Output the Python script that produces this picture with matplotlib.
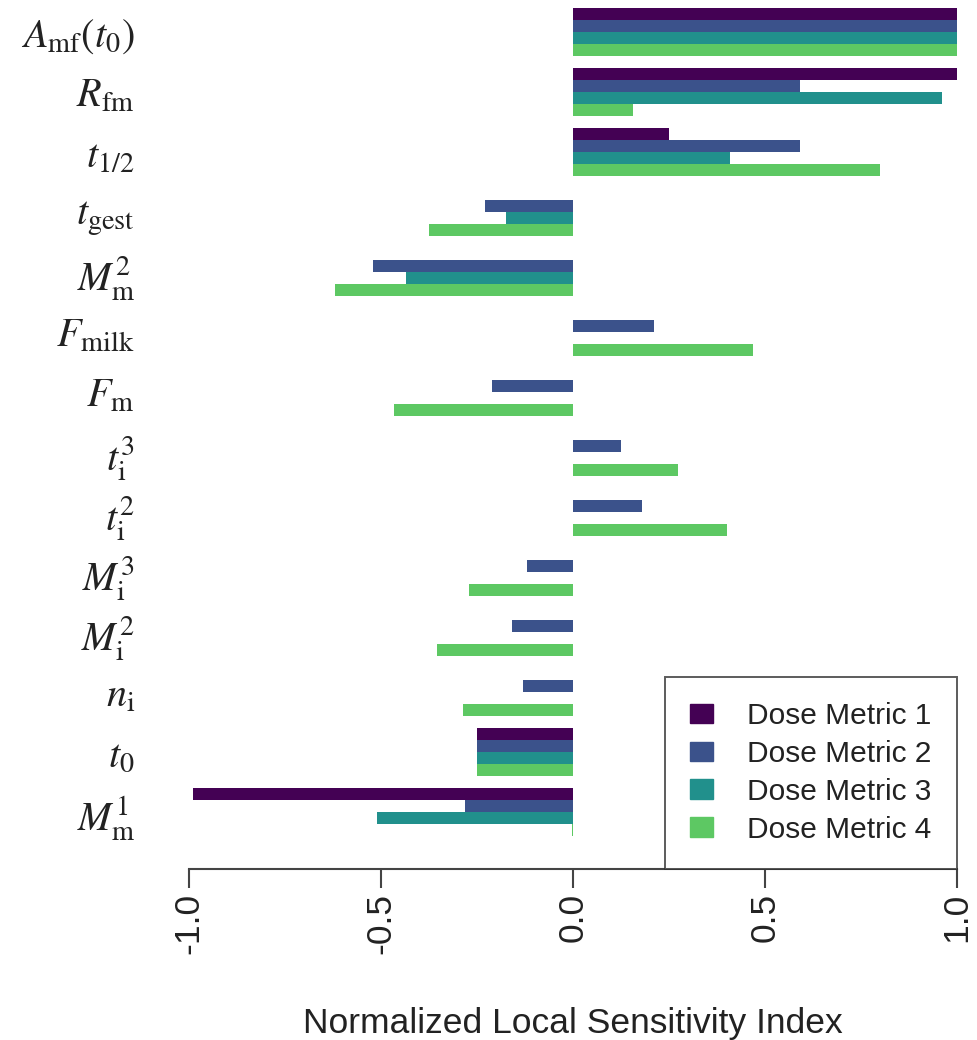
import numpy as np
import matplotlib
matplotlib.use('Agg')
import matplotlib.pyplot as plt
from matplotlib.patches import Patch

plt.rcParams['font.family'] = ['Liberation Sans', 'DejaVu Sans']
plt.rcParams['mathtext.fontset'] = 'stix'

# parameters, listed top to bottom
params = [r'$A_{\mathrm{mf}}(t_0)$', r'$R_{\mathrm{fm}}$', r'$t_{1/2}$',
          r'$t_{\mathrm{gest}}$', r'$M_{\mathrm{m}}^{2}$', r'$F_{\mathrm{milk}}$',
          r'$F_{\mathrm{m}}$', r'$t_{\mathrm{i}}^{3}$', r'$t_{\mathrm{i}}^{2}$',
          r'$M_{\mathrm{i}}^{3}$', r'$M_{\mathrm{i}}^{2}$', r'$n_{\mathrm{i}}$',
          r'$t_0$', r'$M_{\mathrm{m}}^{1}$']

# normalized local sensitivity index per dose metric
dm1 = [1.00, 1.00, 0.25, 0.00, 0.00, 0.00, 0.00, 0.00, 0.00, 0.00, 0.00, 0.00, -0.25, -0.99]
dm2 = [1.00, 0.59, 0.59, -0.23, -0.52, 0.21, -0.21, 0.125, 0.18, -0.12, -0.16, -0.13, -0.25, -0.28]
dm3 = [1.00, 0.96, 0.41, -0.175, -0.435, 0.00, 0.00, 0.00, 0.00, 0.00, 0.00, 0.00, -0.25, -0.51]
dm4 = [1.00, 0.157, 0.80, -0.375, -0.62, 0.47, -0.465, 0.274, 0.40, -0.272, -0.355, -0.287, -0.25, -0.002]

metrics = ['Dose Metric 1', 'Dose Metric 2', 'Dose Metric 3', 'Dose Metric 4']
colors = ['#440154', '#3B528B', '#21908C', '#5DC863']

fig = plt.figure(figsize=(9.77, 10.4), dpi=100)
ax = fig.add_axes([189/977, 171/1040, 768/977, 869/1040])

#Grouped horizontal bars, 4 per parameter plus one bar of space
group_pos = 5*np.arange(len(params))
for j, vals in enumerate([dm1, dm2, dm3, dm4]):
    ax.barh(group_pos + j + 0.5, vals, height=1.0, color=colors[j], edgecolor='none')

ax.set_xlim(-1, 1)
ax.set_ylim(71.75, -0.667)

#Axes styling
for s in ['left', 'right', 'top']:
    ax.spines[s].set_visible(False)
ax.spines['bottom'].set_color('#444444')
ax.spines['bottom'].set_linewidth(1.5)

ax.set_xticks([-1.0, -0.5, 0.0, 0.5, 1.0])
ax.set_xticklabels(['-1.0', '-0.5', '0.0', '0.5', '1.0'], rotation=90, fontsize=25.5, color='#222222')
ax.tick_params(axis='x', length=14, width=1.5, color='#444444', pad=3)

ax.set_yticks(group_pos + 2)
ax.set_yticklabels(params, fontsize=29, color='#222222')
ax.tick_params(axis='y', length=0, pad=39)

ax.set_xlabel('Normalized Local Sensitivity Index', fontsize=25.5, color='#222222', labelpad=38)

#Legend
handles = [Patch(facecolor=c, edgecolor=c) for c in colors]
leg = ax.legend(handles, metrics, loc='lower right', bbox_to_anchor=(1, 0),
                borderaxespad=0, frameon=True, fancybox=False, fontsize=21.5,
                handlelength=0.77, handleheight=0.64, handletextpad=1.15,
                labelspacing=0.33, borderpad=0.85)
leg.get_frame().set_edgecolor('#333333')
leg.get_frame().set_linewidth(1.4)
for t in leg.get_texts():
    t.set_color('#222222')

plt.savefig('out.png', dpi=100)
